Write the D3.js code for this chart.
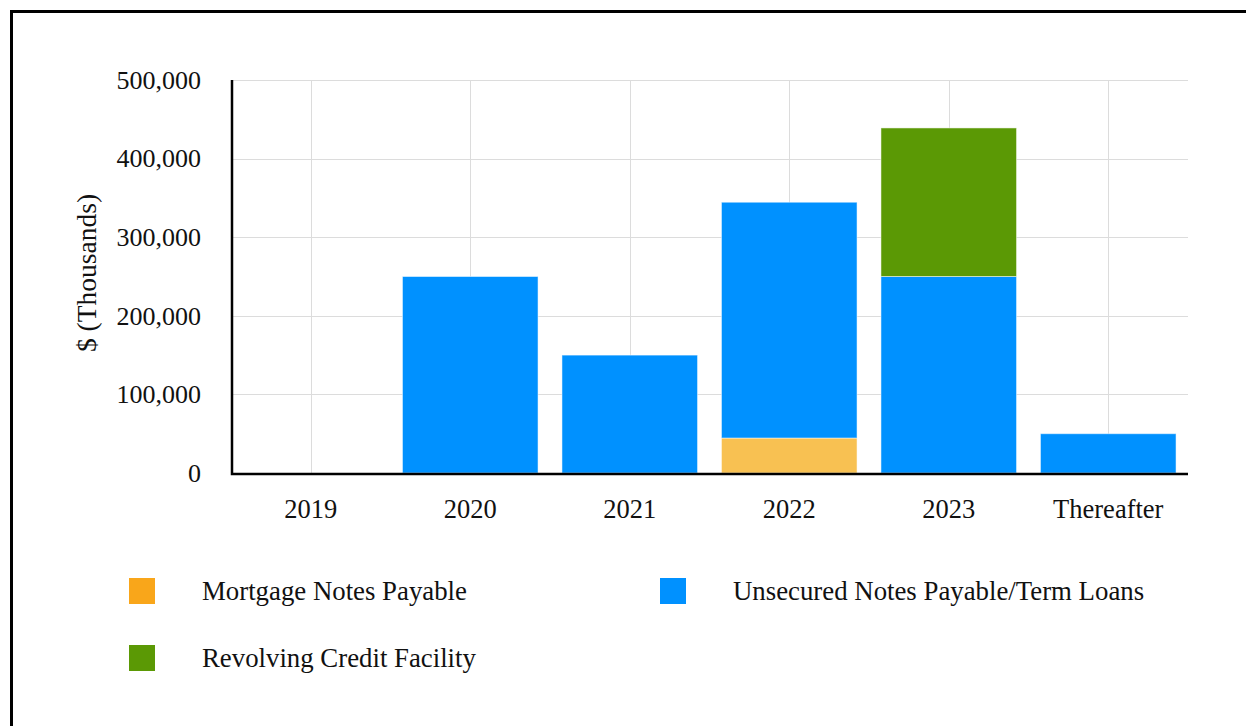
<!DOCTYPE html>
<html>
<head>
<meta charset="utf-8">
<script src="https://cdn.jsdelivr.net/npm/d3@7"></script>
<style>
  body { margin: 0; background: #fff; }
  text { font-family: "Liberation Serif", "Times New Roman", serif; fill: #111; }
</style>
</head>
<body>
<div id="chart"></div>
<script>
var years = ['2019', '2020', '2021', '2022', '2023', 'Thereafter'];
var mortgage = [0, 0, 0, 44500, 0, 0];
var unsecured = [0, 250000, 150000, 300000, 250000, 50000];
var revolving = [0, 0, 0, 0, 189000, 0];
var yTicks = [0, 100000, 200000, 300000, 400000, 500000];

var seriesNames = ['Mortgage Notes Payable', 'Unsecured Notes Payable/Term Loans', 'Revolving Credit Facility'];
var barColors = ['#f8c152', '#0091ff', '#5b9905'];
var legendColors = ['#f9a61a', '#0091ff', '#5b9905'];

var width = 1246, height = 726;
var margin = { top: 80, right: 58, bottom: 253, left: 231 };
var w = width - margin.left - margin.right,
    h = height - margin.top - margin.bottom;

var svg = d3.select('#chart')
  .append('svg')
  .attr('width', width)
  .attr('height', height);

// frame (only top and left edges show in the window)
svg.append('path')
  .attr('d', 'M11.5,' + height + 'V11.5H' + width)
  .attr('fill', 'none')
  .attr('stroke', '#000')
  .attr('stroke-width', 3);

var g = svg.append('g')
  .attr('transform', 'translate(' + margin.left + ',' + margin.top + ')');

var table = years.map(function(y, i) {
  return { year: y, m: mortgage[i], u: unsecured[i], r: revolving[i] };
});

var stack = d3.stack().keys(['m', 'u', 'r'])(table);

var xScale = d3.scaleBand()
  .domain(years)
  .range([0, w])
  .paddingInner(0.15)
  .paddingOuter(0.075);

var yScale = d3.scaleLinear()
  .domain([0, 500000])
  .range([h, 0]);

// grid
g.append('g')
  .selectAll('line')
  .data(yTicks.slice(1))
  .enter()
  .append('line')
  .attr('x1', 0).attr('x2', w)
  .attr('y1', function(d) { return Math.round(yScale(d)) + 0.5; })
  .attr('y2', function(d) { return Math.round(yScale(d)) + 0.5; })
  .attr('stroke', '#dcdcdc');

g.append('g')
  .selectAll('line')
  .data(years)
  .enter()
  .append('line')
  .attr('x1', function(d) { return Math.round(xScale(d) + xScale.bandwidth() / 2) + 0.5; })
  .attr('x2', function(d) { return Math.round(xScale(d) + xScale.bandwidth() / 2) + 0.5; })
  .attr('y1', 0).attr('y2', h)
  .attr('stroke', '#dcdcdc');

// bars
g.selectAll('.series')
  .data(stack)
  .enter()
  .append('g')
  .attr('fill', function(d, i) { return barColors[i]; })
  .selectAll('rect')
  .data(function(d) { return d.filter(function(s) { return s[1] - s[0] > 0; }); })
  .enter()
  .append('rect')
  .attr('x', function(d) { return xScale(d.data.year); })
  .attr('width', xScale.bandwidth())
  .attr('y', function(d) { return yScale(d[1]); })
  .attr('height', function(d) { return yScale(d[0]) - yScale(d[1]); })
  .attr('stroke', 'rgba(255,255,255,0.5)')
  .attr('stroke-width', 1);

// axes
var yAxis = g.append('g')
  .call(d3.axisLeft(yScale).tickValues(yTicks).tickSize(0).tickPadding(30)
    .tickFormat(d3.format(',')));
yAxis.select('.domain').remove();
yAxis.selectAll('text').attr('font-size', 26).attr('font-family', '"Liberation Serif", serif');

var xAxis = g.append('g')
  .attr('transform', 'translate(0,' + h + ')')
  .call(d3.axisBottom(xScale).tickSize(0).tickPadding(26));
xAxis.select('.domain').remove();
xAxis.selectAll('text').attr('font-size', 26.5).attr('font-family', '"Liberation Serif", serif');

g.append('path')
  .attr('d', 'M1,0V' + (h + 1) + 'H' + w)
  .attr('fill', 'none')
  .attr('stroke', '#000')
  .attr('stroke-width', 2.5);

// axis title
svg.append('text')
  .attr('transform', 'translate(96,' + 273 + ') rotate(-90)')
  .attr('text-anchor', 'middle')
  .attr('font-size', 27.5)
  .text('$ (Thousands)');

// legend
var legendPos = [[129, 578], [660, 578], [129, 645]];
var legend = svg.selectAll('.legend')
  .data(seriesNames)
  .enter()
  .append('g')
  .attr('transform', function(d, i) { return 'translate(' + legendPos[i][0] + ',' + legendPos[i][1] + ')'; });

legend.append('rect')
  .attr('width', 26)
  .attr('height', 26)
  .attr('fill', function(d, i) { return legendColors[i]; });

legend.append('text')
  .attr('x', 73)
  .attr('y', 22)
  .attr('font-size', 26.8)
  .text(function(d) { return d; });
</script>
</body>
</html>
